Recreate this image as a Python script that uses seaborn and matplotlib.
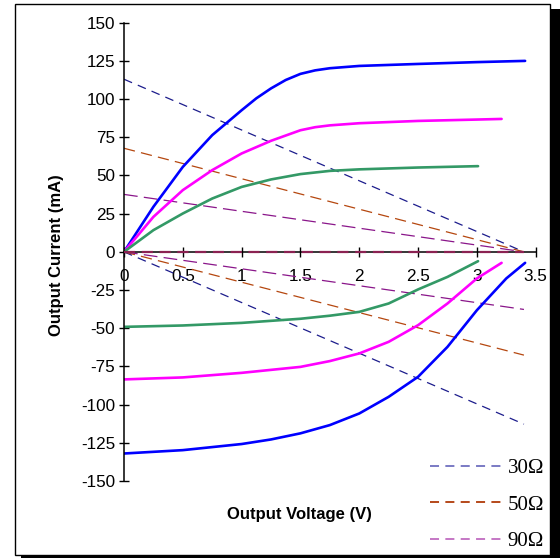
import numpy as np
import pandas as pd
import seaborn as sns
from matplotlib import pyplot as plt
from matplotlib.patches import Rectangle
from matplotlib.lines import Line2D

# solid I-V curves (V, mA)
v_blue_pos = [0, 0.25, 0.5, 0.75, 1.0, 1.125, 1.25, 1.375, 1.5, 1.625, 1.75, 2.0, 2.5, 3.0, 3.41]
i_blue_pos = [0, 29.5, 55.6, 76.4, 92.7, 100.5, 107, 112.5, 116.5, 118.8, 120.2, 121.7, 123, 124.2, 125]
v_mag_pos = [0, 0.25, 0.5, 0.75, 1.0, 1.25, 1.5, 1.625, 1.75, 2.0, 2.5, 3.0, 3.21]
i_mag_pos = [0, 22.9, 40.4, 53.5, 64.4, 72.7, 79.6, 81.6, 82.8, 84.2, 85.7, 86.6, 87]
v_grn_pos = [0, 0.25, 0.5, 0.75, 1.0, 1.25, 1.5, 1.75, 2.0, 2.5, 3.01]
i_grn_pos = [0, 14.2, 25.1, 34.9, 42.5, 47.4, 50.9, 53.0, 54.0, 55.2, 56.1]

v_blue_neg = [0, 0.5, 1.0, 1.25, 1.5, 1.75, 2.0, 2.25, 2.5, 2.75, 3.0, 3.25, 3.41]
i_blue_neg = [-132, -129.8, -125.8, -122.8, -118.8, -113.4, -105.8, -94.9, -81.8, -62.2, -38.2, -17.4, -7.2]
v_mag_neg = [0, 0.5, 1.0, 1.5, 1.75, 2.0, 2.25, 2.5, 2.75, 3.0, 3.21]
i_mag_neg = [-83.5, -82.2, -79.2, -75.3, -71.5, -66.5, -58.9, -48, -33.8, -17.4, -7.2]
v_grn_neg = [0, 0.5, 1.0, 1.5, 1.75, 2.0, 2.25, 2.5, 2.75, 3.01]
i_grn_neg = [-49.1, -48.2, -46.5, -43.8, -41.8, -39.3, -33.8, -24.6, -16.4, -6.1]

# load lines
load_names = ['30\u03a9', '50\u03a9', '90\u03a9']
v_load = [0, 3.4]
i_load_pos = {'30\u03a9': [113, 0], '50\u03a9': [67.8, 0], '90\u03a9': [37.6, 0]}
i_load_neg = {'30\u03a9': [0, -112.8], '50\u03a9': [0, -67.6], '90\u03a9': [0, -37.7]}
v_zero = [0, 3.4]
i_zero = [0, 0]

x_ticks = [0, 0.5, 1, 1.5, 2, 2.5, 3, 3.5]
x_tick_labels = ['0', '0.5', '1', '1.5', '2', '2.5', '3', '3.5']
y_ticks = [150, 125, 100, 75, 50, 25, 0, -25, -50, -75, -100, -125, -150]

sns.set_style('white')
plt.rcParams['font.family'] = ['Liberation Sans', 'DejaVu Sans']
plt.rcParams['text.color'] = 'black'
plt.rcParams['axes.unicode_minus'] = False

fig = plt.figure(figsize=(5.6, 5.58), dpi=100)
W, H = 560, 558
# frame with shadow
fig.patches.append(Rectangle((21 / W, 0), (W - 21) / W, (H - 9) / H,
                             transform=fig.transFigure, facecolor='black',
                             edgecolor='none', zorder=-2))
fig.patches.append(Rectangle((15 / W, 1 - 555 / H), 535 / W, 551 / H,
                             transform=fig.transFigure, facecolor='white',
                             edgecolor='black', linewidth=1, zorder=-1))

ax = fig.add_axes([124 / W, 1 - 481 / H, 411.7 / W, 458.3 / H])
ax.set_zorder(1)
ax.patch.set_alpha(0)

load_colors = {'30\u03a9': '#1c1c8c', '50\u03a9': '#b5470f', '90\u03a9': '#8a168a'}
legend_colors = {'30\u03a9': '#6f6fbf', '50\u03a9': '#b03a08', '90\u03a9': '#c06cc0'}
load_dashes = {'30\u03a9': (7, 5), '50\u03a9': (9, 5), '90\u03a9': (11, 5)}
for n in load_names:
    for ys in (i_load_pos[n], i_load_neg[n]):
        df = pd.DataFrame({'V': v_load, 'I': ys})
        sns.lineplot(data=df, x='V', y='I', ax=ax, color=load_colors[n],
                     linewidth=0.9, sort=False, estimator=None,
                     dashes=False, linestyle=(0, load_dashes[n]))

curves = [(v_blue_pos, i_blue_pos, '#0000ff'), (v_mag_pos, i_mag_pos, '#ff00ff'),
          (v_grn_pos, i_grn_pos, '#339966'), (v_blue_neg, i_blue_neg, '#0000ff'),
          (v_mag_neg, i_mag_neg, '#ff00ff'), (v_grn_neg, i_grn_neg, '#339966')]
for v, i, c in curves:
    df = pd.DataFrame({'V': v, 'I': i})
    line = sns.lineplot(data=df, x='V', y='I', ax=ax, color=c, linewidth=1.9,
                        sort=False, estimator=None)
for ln in ax.lines:
    ln.set_solid_joinstyle('round')

sns.lineplot(x=v_zero, y=i_zero, ax=ax, color='#8b2252', linewidth=1.6,
             linestyle=(0, (5, 3)), zorder=3)

ax.set_xlim(0, 3.5)
ax.set_ylim(-150, 150)
ax.spines['left'].set_position(('data', 0))
ax.spines['bottom'].set_position(('data', 0))
ax.spines['top'].set_visible(False)
ax.spines['right'].set_visible(False)
for s in ('left', 'bottom'):
    ax.spines[s].set_color('black')
    ax.spines[s].set_linewidth(1.1)
ax.set_xticks(x_ticks)
ax.set_xticklabels(x_tick_labels)
ax.set_yticks(y_ticks)
ax.tick_params(axis='both', direction='inout', length=7, width=1,
               color='black', labelsize=12.3, labelcolor='black',
               bottom=True, left=True)
ax.tick_params(axis='x', pad=9)
ax.tick_params(axis='y', pad=3)
ax.set_xlabel('')
ax.set_ylabel('')

fig.text(57 / W, 1 - 255 / H, 'Output Current (mA)', rotation=90,
         ha='center', va='center', fontsize=12, fontweight='bold', color='black')
fig.text(299 / W, 1 - 515 / H, 'Output Voltage (V)', ha='center',
         va='center', fontsize=12, fontweight='bold', color='black')

handles = [Line2D([], [], color=legend_colors[n], linewidth=1.3,
                  linestyle=(0, (5, 3.5))) for n in load_names]
fig.legend(handles, load_names, loc='upper left',
           bbox_to_anchor=(411 / W, 1 - 440 / H), frameon=False,
           prop={'family': 'Liberation Serif', 'size': 15},
           handlelength=3.4, handletextpad=0.35, labelspacing=0.8)

fig.savefig('out.png', dpi=100)
